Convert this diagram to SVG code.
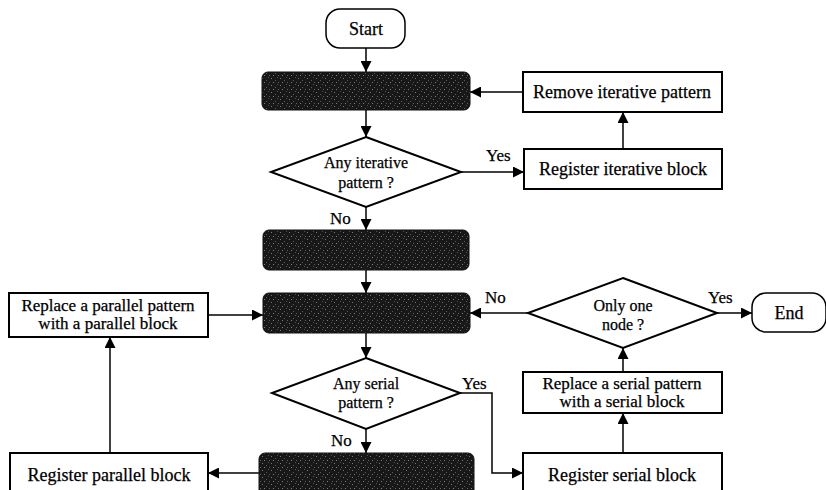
<svg xmlns="http://www.w3.org/2000/svg" width="826" height="490" viewBox="0 0 826 490">
  <defs>
    <marker id="arrow" viewBox="0 0 10 10" refX="10" refY="5" markerWidth="11" markerHeight="11" markerUnits="userSpaceOnUse" orient="auto">
      <path d="M0,0 L10,5 L0,10 z" fill="#000"/>
    </marker>
    <pattern id="grain" width="9" height="7" patternUnits="userSpaceOnUse">
      <rect width="9" height="7" fill="#181818"/>
      <rect x="1" y="1" width="1" height="1" fill="#777"/>
      <rect x="5" y="3" width="1" height="1" fill="#5a5a5a"/>
      <rect x="3" y="5" width="1" height="1" fill="#808080"/>
      <rect x="7" y="0" width="1" height="1" fill="#505050"/>
      <rect x="8" y="5" width="1" height="1" fill="#606060"/>
    </pattern>
    <style>
      .box { fill: #fff; stroke: #000; stroke-width: 2; }
      .term { fill: #fff; stroke: #000; stroke-width: 1.5; }
      .dark { fill: url(#grain); stroke: #111; stroke-width: 1; }
      .dia { fill: #fff; stroke: #000; stroke-width: 2; }
      .edge { fill: none; stroke: #000; stroke-width: 1.5; marker-end: url(#arrow); }
      text { font-family: "Liberation Serif", "Times New Roman", serif; fill: #000; text-anchor: middle; stroke: #000; stroke-width: 0.25; }
      .t { font-size: 18px; }
      .t2 { font-size: 17px; }
      .d { font-size: 16px; }
      .lbl { font-size: 17px; text-anchor: start; }
    </style>
  </defs>

  <!-- connectors and their Yes/No labels -->
  <g id="connectors">
    <path class="edge" d="M366,48 V72"/>
    <path class="edge" d="M366,110 V137"/>
    <path class="edge" d="M523,92 H470"/>
    <path class="edge" d="M623,149 V112"/>
    <path class="edge" d="M461,172 H524"/>
    <path class="edge" d="M366,207 V230"/>
    <path class="edge" d="M366,270 V293"/>
    <path class="edge" d="M208,315 H263"/>
    <path class="edge" d="M366,333 V358"/>
    <path class="edge" d="M528,313 H470"/>
    <path class="edge" d="M717,313 H752"/>
    <path class="edge" d="M623,372 V348"/>
    <path class="edge" d="M623,453 V413"/>
    <path class="edge" d="M460,393 H492 V473 H523"/>
    <path class="edge" d="M366,429 V453"/>
    <path class="edge" d="M259,473 H208"/>
    <path class="edge" d="M110,453 V337"/>
    <text class="lbl" x="486" y="161">Yes</text>
    <text class="lbl" x="330" y="224">No</text>
    <text class="lbl" x="485" y="303">No</text>
    <text class="lbl" x="708" y="303">Yes</text>
    <text class="lbl" x="462" y="389">Yes</text>
    <text class="lbl" x="331" y="446">No</text>
  </g>

  <g id="start">
    <rect class="term" x="326" y="9" width="79" height="39" rx="14"/>
    <text class="t" x="366" y="35">Start</text>
  </g>

  <g id="step1">
    <rect class="dark" x="262" y="72" width="208" height="38" rx="6"/>
  </g>

  <g id="remove-iterative">
    <rect class="box" x="523" y="72" width="199" height="40"/>
    <text class="t" x="622" y="98">Remove iterative pattern</text>
  </g>

  <g id="iterative-check">
    <polygon class="dia" points="366,137 461,172 366,207 271,172"/>
    <text class="d" x="366" y="168">Any iterative</text>
    <text class="d" x="366" y="188">pattern ?</text>
  </g>

  <g id="register-iterative">
    <rect class="box" x="524" y="149" width="198" height="40"/>
    <text class="t" x="623" y="175">Register iterative block</text>
  </g>

  <g id="step2">
    <rect class="dark" x="263" y="230" width="206" height="40" rx="6"/>
  </g>

  <g id="step3">
    <rect class="dark" x="263" y="293" width="207" height="40" rx="6"/>
  </g>

  <g id="replace-parallel">
    <rect class="box" x="9" y="293" width="199" height="44"/>
    <text class="t2" x="108" y="311">Replace a parallel pattern</text>
    <text class="t2" x="108" y="329">with a parallel block</text>
  </g>

  <g id="single-node-check">
    <polygon class="dia" points="623,278 717,313 623,348 528,313"/>
    <text class="d" x="623" y="311">Only one</text>
    <text class="d" x="623" y="330">node ?</text>
  </g>

  <g id="end">
    <rect class="term" x="752" y="293" width="74" height="39" rx="14"/>
    <text class="t" x="789" y="319">End</text>
  </g>

  <g id="serial-check">
    <polygon class="dia" points="366,358 460,393 366,429 272,393"/>
    <text class="d" x="366" y="389">Any serial</text>
    <text class="d" x="366" y="408">pattern ?</text>
  </g>

  <g id="replace-serial">
    <rect class="box" x="523" y="372" width="199" height="41"/>
    <text class="t2" x="622" y="389">Replace a serial pattern</text>
    <text class="t2" x="622" y="407">with a serial block</text>
  </g>

  <g id="step4">
    <rect class="dark" x="259" y="453" width="215" height="45" rx="6"/>
  </g>

  <g id="register-parallel">
    <rect class="box" x="10" y="453" width="198" height="45"/>
    <text class="t" x="109" y="481">Register parallel block</text>
  </g>

  <g id="register-serial">
    <rect class="box" x="523" y="453" width="199" height="45"/>
    <text class="t" x="622" y="481">Register serial block</text>
  </g>
</svg>
